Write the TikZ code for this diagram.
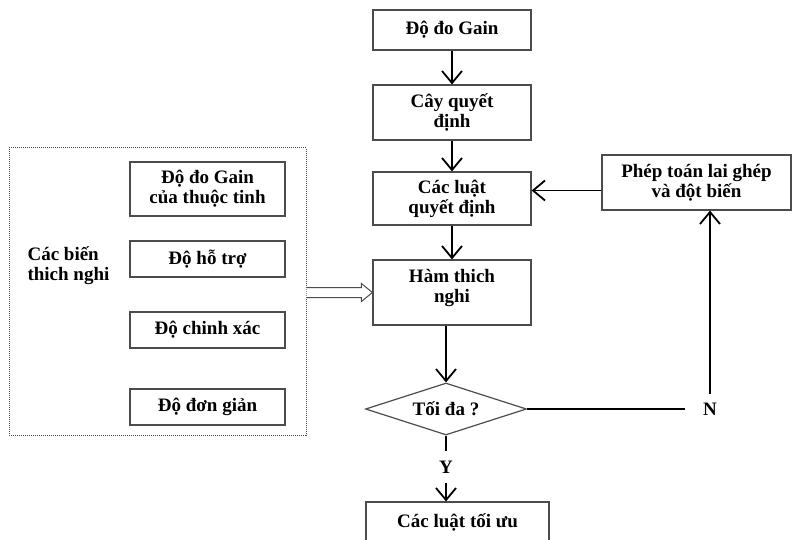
\documentclass[tikz,border=0pt]{standalone}
\usepackage{fontspec}
\setmainfont{Liberation Serif}
\usetikzlibrary{arrows.meta, shapes.geometric, positioning, calc}
\tikzset{%
    >={Straight Barb[length=12pt,width=20pt]},
    hop/.style      = {rectangle, draw=black!70, line width=1.2pt,
                       minimum width=158pt, text centered, align=center},
    hopnho/.style   = {hop, minimum width=155pt, minimum height=36pt},
    thoi/.style     = {diamond, draw=black!70, line width=1.2pt, aspect=3.1,
                       minimum width=161pt, minimum height=52pt, inner sep=0pt},
    muiten/.style   = {->, line width=1.8pt},
    duong/.style    = {line width=1.8pt},
}

\begin{document}
\begin{tikzpicture}[x=1pt, y=-1pt, node distance=86pt,
    every node/.style={font=\fontsize{19}{20}\selectfont\bfseries}]
    \useasboundingbox (0,0) rectangle (794,540);

    % cot chinh
    \node (gain)  [hop, minimum height=40pt] at (452,30) {Độ đo Gain};
    \node (cay)   [hop, minimum height=55pt, below of=gain, yshift=3.5pt] {Cây quyết\\định};
    \node (luat)  [hop, minimum height=53pt, below of=cay] {Các luật\\quyết định};
    \node (ham)   [hop, minimum height=65pt, below of=luat, yshift=-8pt] {Hàm thich\\nghi\\[-6pt]};
    \node (toida) [thoi, below of=ham, xshift=-6pt, yshift=-30.5pt] {Tối đa ?};
    \node (yes)   [below of=toida, yshift=28pt, inner ysep=10pt] {Y};
    \node (toiuu) [hop, minimum width=183pt, minimum height=40pt, below of=yes,
                   xshift=11.5pt, yshift=31pt] {Các luật tối ưu};

    % nhanh ben phai
    \node (laighep) [hop, minimum width=189pt, minimum height=55pt] at (696.5,182.5)
                    {Phép toán lai ghép\\và đột biến};
    \node (no)    [right of=toida, xshift=178pt,
                   inner xsep=18pt, inner ysep=9pt] {N};
    \coordinate (vao) at ([yshift=-8pt]laighep.west);

    % cac bien thich nghi
    \node (bien)  [draw=black!70, densely dotted, line width=1pt,
                   minimum width=297pt, minimum height=287pt] at (157.5,291.5) {};
    \node (gain2) [hopnho, minimum height=54pt] at (207.5,189) {Độ đo Gain\\của thuộc tinh};
    \node (hotro) [hopnho, below of=gain2, node distance=70pt] {Độ hỗ trợ};
    \node (chinh) [hopnho, below of=hotro, node distance=71pt] {Độ chinh xác};
    \node (don)   [hopnho, below of=chinh, node distance=77pt] {Độ đơn giản};
    \node (nhan)  [anchor=west, align=left] at (24,266) {Các biến\\thich nghi};

    \draw[muiten] (gain)  -- (cay);
    \draw[muiten] (cay)   -- (luat);
    \draw[muiten] (luat)  -- (ham);
    \draw[muiten] (ham.south -| toida.north) -- (toida.north);
    \draw[duong]  (toida) -- (yes);
    \draw[muiten] (yes)   -- (toiuu.north -| yes.south);
    \draw[duong]  (toida.east) -- (no.west);
    \draw[muiten] (no)    -- (laighep.south -| no.north);
    \draw[muiten] (vao) -- (luat.east |- vao);

    % mui ten rong
    \coordinate (goc) at (bien.east |- ham.west);
    \draw[draw=black!70, line width=1pt, fill=white]
        ($(goc)+(0,-5)$) -- ($(ham.west)+(-11,-5)$) -- ($(ham.west)+(-11,-9)$)
        -- (ham.west) -- ($(ham.west)+(-11,9)$) -- ($(ham.west)+(-11,5)$)
        -- ($(goc)+(0,5)$);
\end{tikzpicture}
\end{document}
